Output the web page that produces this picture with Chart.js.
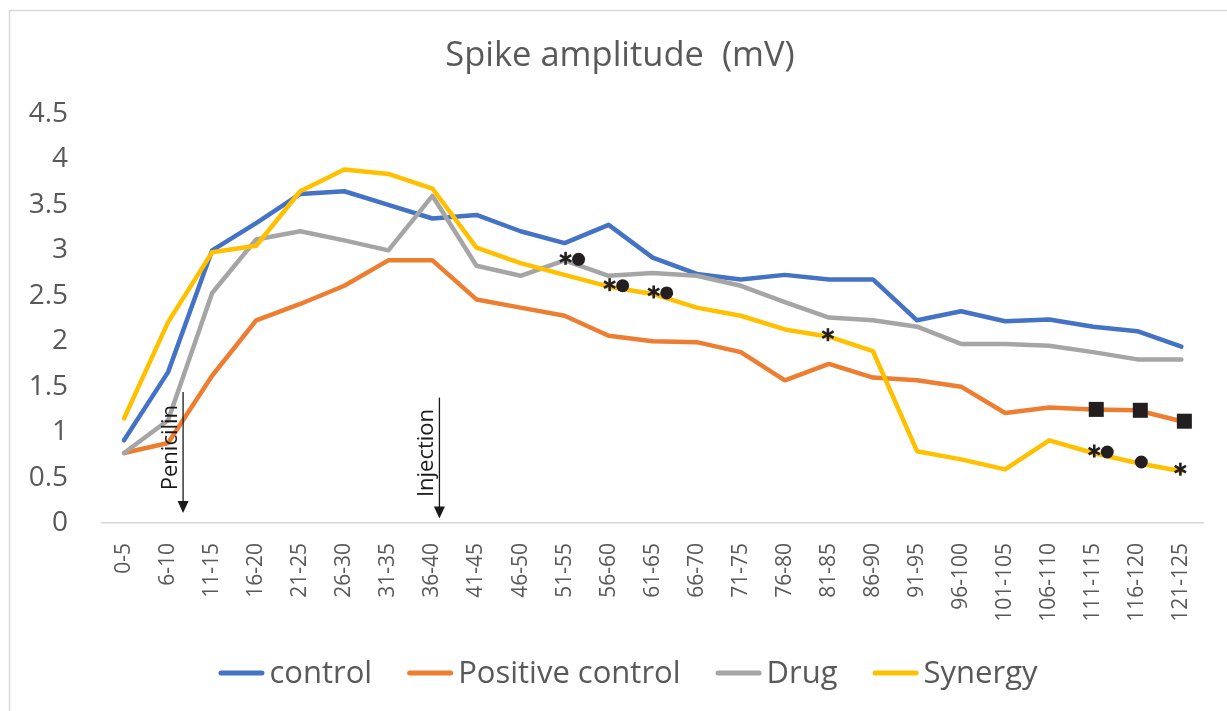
<!DOCTYPE html>
<html><head><meta charset="utf-8">
<script src="https://cdn.jsdelivr.net/npm/chart.js@4.4.1/dist/chart.umd.min.js"></script>
<style>html,body{margin:0;padding:0;background:#fff;} canvas{display:block;}</style>
</head><body>
<canvas id="c" width="1227" height="711" style="width:1227px;height:711px"></canvas>
<script>
// ---------- data ----------
const categories = ['0-5','6-10','11-15','16-20','21-25','26-30','31-35','36-40','41-45','46-50','51-55','56-60','61-65','66-70','71-75','76-80','81-85','86-90','91-95','96-100','101-105','106-110','111-115','116-120','121-125'];
const controlValues = [0.91,1.66,3.00,3.30,3.62,3.65,3.50,3.35,3.39,3.21,3.08,3.28,2.92,2.74,2.68,2.73,2.68,2.68,2.23,2.33,2.22,2.24,2.16,2.11,1.94];
const positiveControlValues = [0.77,0.88,1.62,2.23,2.41,2.61,2.89,2.89,2.46,2.37,2.28,2.06,2.00,1.99,1.88,1.57,1.75,1.60,1.57,1.50,1.21,1.27,1.25,1.24,1.12];
const drugValues = [0.77,1.13,2.53,3.12,3.21,3.11,3.00,3.60,2.83,2.72,2.89,2.72,2.75,2.72,2.61,2.43,2.26,2.23,2.16,1.97,1.97,1.95,1.88,1.80,1.80];
const synergyValues = [1.15,2.21,2.98,3.05,3.65,3.89,3.84,3.68,3.03,2.86,2.73,2.60,2.52,2.37,2.28,2.13,2.05,1.89,0.79,0.70,0.59,0.91,0.77,0.66,0.57];
const yTickLabels = ['0','0.5','1','1.5','2','2.5','3','3.5','4','4.5'];
const seriesNames = ['control','Positive control','Drug','Synergy'];
// significance marks (category labels per series)
const starMarks = {'Drug':['51-55'], 'Synergy':['56-60','61-65','81-85','111-115','121-125']};
const dotMarks = {'Drug':['51-55'], 'Synergy':['56-60','61-65','111-115','116-120']};
const squareMarks = {'Positive control':['111-115','116-120','121-125']};
// event arrows
const arrowLabels = ['Penicilin','Injection'];
const arrowCategories = ['6-10','36-40'];
const arrowFrom = [1.44, 1.38];
const arrowTo = [0.11, 0.05];

// ---------- style ----------
const colors = ['#4472C4','#ED7D31','#A5A5A5','#FFC000'];
const textGray = '#595959';
const FONT = "'Open Sans', sans-serif";
const arrowDx = [15, 7];

const seriesValues = [controlValues, positiveControlValues, drugValues, synergyValues];

const decorPlugin = {
  id: 'decor',
  beforeDraw(chart) {
    const ctx = chart.ctx;
    ctx.save();
    ctx.fillStyle = '#fff';
    ctx.fillRect(0, 0, chart.width, chart.height);
    ctx.strokeStyle = '#d9d9d9';
    ctx.lineWidth = 1.5;
    ctx.strokeRect(9.5, 10.5, chart.width + 20, chart.height + 20);
    ctx.restore();
  },
  afterDatasetsDraw(chart) {
    const ctx = chart.ctx;
    const xs = chart.scales.x, ys = chart.scales.y;
    const val = (name, cat) => seriesValues[seriesNames.indexOf(name)][categories.indexOf(cat)];
    ctx.save();
    ctx.fillStyle = '#231f20';
    ctx.strokeStyle = '#231f20';
    // squares
    Object.keys(squareMarks).forEach(name => {
      squareMarks[name].forEach(cat => {
        const x = xs.getPixelForValue(categories.indexOf(cat)) + 3;
        const y = ys.getPixelForValue(val(name, cat));
        ctx.fillRect(x - 7.5, y - 7.5, 15, 15);
      });
    });
    const drawStar = (x, y) => {
      ctx.lineWidth = 2.6;
      ctx.lineCap = 'butt';
      for (let k = 0; k < 3; k++) {
        const a = Math.PI / 2 + k * Math.PI / 3;
        ctx.beginPath();
        ctx.moveTo(x - 6.5 * Math.cos(a), y - 6.5 * Math.sin(a));
        ctx.lineTo(x + 6.5 * Math.cos(a), y + 6.5 * Math.sin(a));
        ctx.stroke();
      }
    };
    Object.keys(starMarks).forEach(name => {
      starMarks[name].forEach(cat => {
        const paired = (dotMarks[name] || []).includes(cat);
        const x = xs.getPixelForValue(categories.indexOf(cat)) + (paired ? 1 : -1);
        const y = ys.getPixelForValue(val(name, cat)) - 2;
        drawStar(x, y);
      });
    });
    Object.keys(dotMarks).forEach(name => {
      dotMarks[name].forEach(cat => {
        const paired = (starMarks[name] || []).includes(cat);
        const x = xs.getPixelForValue(categories.indexOf(cat)) + (paired ? 14 : 4);
        const y = ys.getPixelForValue(val(name, cat)) - 1;
        ctx.beginPath();
        ctx.arc(x, y, 6.5, 0, Math.PI * 2);
        ctx.fill();
      });
    });
    // arrows
    arrowLabels.forEach((lab, i) => {
      const x = xs.getPixelForValue(categories.indexOf(arrowCategories[i])) + arrowDx[i];
      const y1 = ys.getPixelForValue(arrowFrom[i]);
      const y2 = ys.getPixelForValue(arrowTo[i]);
      ctx.strokeStyle = '#1a1a1a';
      ctx.fillStyle = '#1a1a1a';
      ctx.lineWidth = 1.3;
      ctx.beginPath();
      ctx.moveTo(x, y1);
      ctx.lineTo(x, y2 - 11);
      ctx.stroke();
      ctx.beginPath();
      ctx.moveTo(x - 5.5, y2 - 12);
      ctx.lineTo(x + 5.5, y2 - 12);
      ctx.lineTo(x, y2);
      ctx.closePath();
      ctx.fill();
      ctx.save();
      ctx.translate(x - 6, (y1 + y2) / 2 - 5);
      ctx.rotate(-Math.PI / 2);
      ctx.font = "22px " + FONT;
      ctx.textAlign = 'center';
      ctx.textBaseline = 'alphabetic';
      ctx.fillText(lab, 0, 0);
      ctx.restore();
    });
    ctx.restore();
  },
  afterDraw(chart) {
    const ctx = chart.ctx;
    ctx.save();
    // title
    ctx.fillStyle = textGray;
    ctx.font = "34.5px " + FONT;
    ctx.textAlign = 'center';
    ctx.textBaseline = 'alphabetic';
    ctx.fillText('Spike amplitude  (mV)', 620, 66);
    // legend
    ctx.font = "31px " + FONT;
    const lineW = 46, gapText = 5, gapItem = 35;
    const widths = seriesNames.map(n => ctx.measureText(n).width);
    let total = 0;
    widths.forEach((w, i) => { total += lineW + gapText + w + (i < widths.length - 1 ? gapItem : 0); });
    let x = 628 - total / 2;
    const y = 673;
    ctx.textAlign = 'left';
    ctx.textBaseline = 'middle';
    seriesNames.forEach((n, i) => {
      ctx.strokeStyle = colors[i];
      ctx.lineWidth = 5;
      ctx.lineCap = 'round';
      ctx.beginPath();
      ctx.moveTo(x + 2.5, y);
      ctx.lineTo(x + lineW - 2.5, y);
      ctx.stroke();
      ctx.fillStyle = textGray;
      ctx.fillText(n, x + lineW + gapText, y + 1);
      x += lineW + gapText + widths[i] + gapItem;
    });
    ctx.restore();
  }
};

const datasets = seriesNames.map((name, i) => ({
  label: name,
  data: seriesValues[i],
  borderColor: colors[i],
  backgroundColor: colors[i],
  borderWidth: 4.5,
  pointRadius: 0,
  pointHoverRadius: 0,
  tension: 0,
  fill: false,
  borderCapStyle: 'round',
  borderJoinStyle: 'round',
  order: seriesNames.length - i
}));

new Chart(document.getElementById('c'), {
  type: 'line',
  data: { labels: categories, datasets },
  options: {
    responsive: false,
    animation: false,
    devicePixelRatio: 1,
    events: [],
    layout: { autoPadding: false, padding: { left: 10, right: 22, top: 114, bottom: 20 } },
    plugins: { legend: { display: false }, title: { display: false }, tooltip: { enabled: false } },
    scales: {
      x: {
        offset: true,
        grid: { display: false, drawTicks: false, offset: true },
        border: { display: true, color: '#d9d9d9', width: 1.5 },
        ticks: { color: textGray, font: { family: FONT, size: 21 }, minRotation: 90, maxRotation: 90, padding: 20, autoSkip: false },
        afterFit(scale) { scale.height = 168; }
      },
      y: {
        min: 0, max: 4.5,
        grid: { display: false, drawTicks: false },
        border: { display: false },
        ticks: { stepSize: 0.5, color: textGray, font: { family: FONT, size: 28 }, padding: 34,
          callback: (v) => yTickLabels[Math.round(v * 2)] },
        afterFit(scale) { scale.width = 92; }
      }
    }
  },
  plugins: [decorPlugin]
});
</script>
</body></html>
